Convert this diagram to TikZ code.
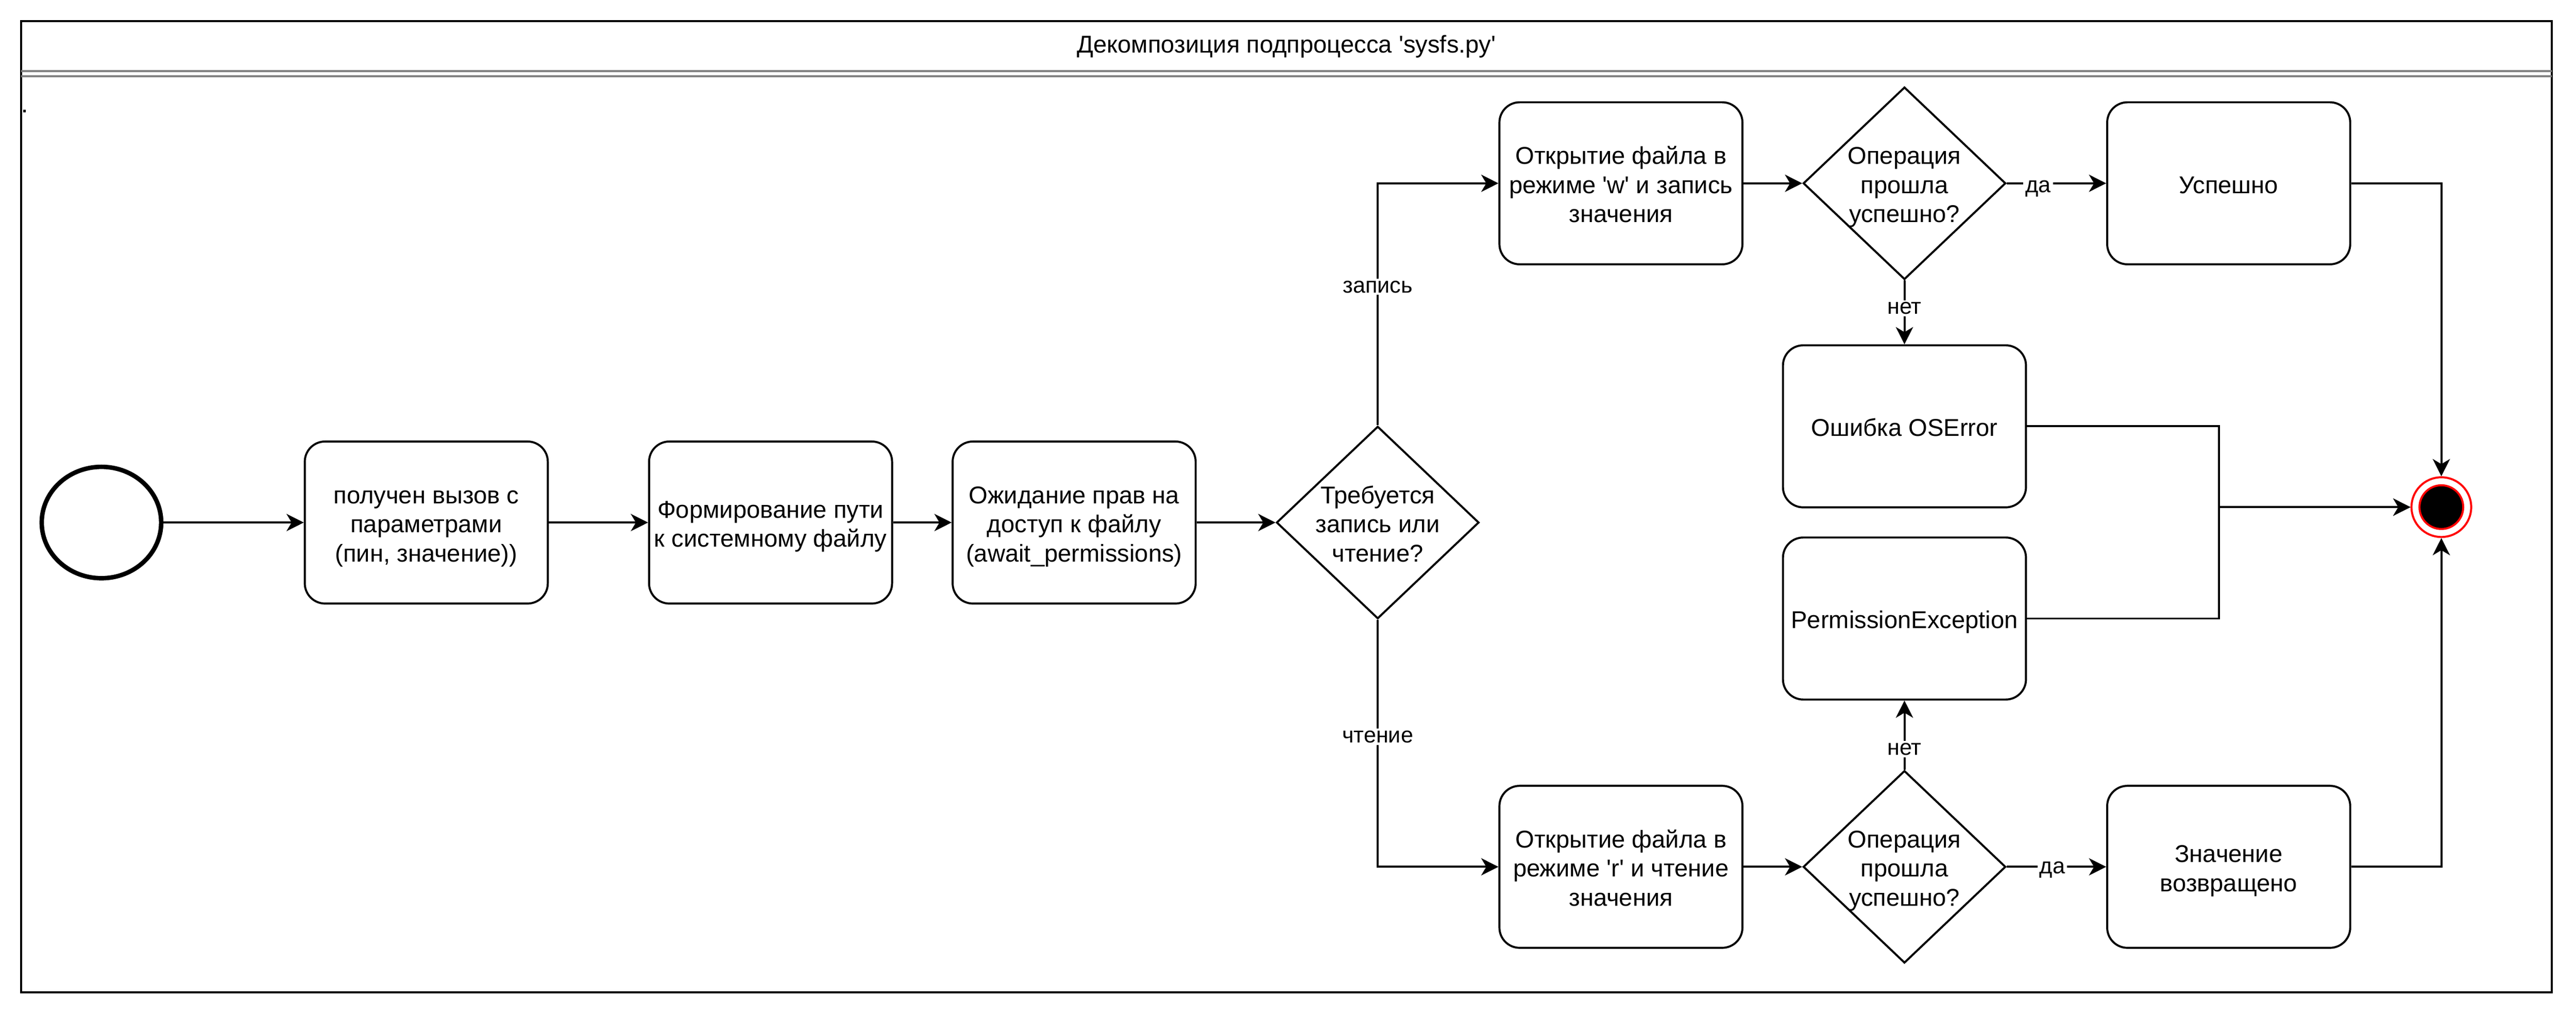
\documentclass[tikz,border=0pt]{standalone}
\usepackage{fontspec}
\setmainfont{Liberation Sans}
\usetikzlibrary{shapes.geometric,arrows.meta}
\newcommand{\dstrutA}{\rule[-3.04pt]{0pt}{16pt}}
\newcommand{\dstrut}{\rule[-3.04pt]{0pt}{14.4pt}}
\begin{document}
\begin{tikzpicture}[x=1pt,y=-1pt,
  every node/.style={font=\fontsize{12}{14.4}\selectfont},
  proc/.style={draw,line width=1pt,rounded corners=10pt,minimum width=120pt,minimum height=80pt,inner sep=0pt,align=center},
  dec/.style={draw,diamond,line width=1pt,minimum width=100pt,minimum height=95pt,inner sep=0pt},
  dtext/.style={inner sep=0pt,align=center},
  lbl/.style={fill=white,inner sep=1pt,font=\fontsize{11}{13.2}\selectfont},
  flow/.style={line width=1pt,-{Stealth[length=8.5pt,width=8.5pt,inset=2.5pt]}},
]
\useasboundingbox (0,0) rectangle (1272,501);

% frame
\draw[line width=1pt] (10.5,10.5) rectangle (1260,490);
\draw[line width=1pt,gray] (10.5,35.2) -- (1260,35.2);
\draw[line width=1pt,gray] (10.5,37.6) -- (1260,37.6);
\node[inner sep=0pt,anchor=base] (title) at (635.2,26) {Декомпозиция подпроцесса \textquotesingle sysfs.py\textquotesingle};
\node[fill,inner sep=0pt,minimum size=1.3pt] (dot) at (12.1,54.9) {};

% nodes
\node[draw,ellipse,line width=2.2pt,minimum width=59pt,minimum height=55pt,inner sep=0pt] (start) at (50.1,258) {};
\node[proc] (b1) at (210.5,258) {\dstrutA получен вызов с\\параметрами\\(пин, значение))\dstrut};
\node[proc] (b2) at (380.5,258) {\dstrutA Формирование пути\\к системному файлу\dstrut};
\node[proc] (b3) at (530.4,258) {\dstrutA Ожидание прав на\\доступ к файлу\\(await\_permissions)\dstrut};
\node[dec] (d1) at (680.3,258) {};
\node[dtext] (d1t) at (d1.center) {\dstrutA Требуется\\запись или\\чтение?\dstrut};

\node[proc] (w1) at (800.4,90.5) {\dstrutA Открытие файла в\\режиме \textquotesingle w\textquotesingle{} и запись\\значения\dstrut};
\node[dec] (d2) at (940.4,90.5) {};
\node[dtext] (d2t) at (d2.center) {\dstrutA Операция\\прошла\\успешно?\dstrut};
\node[proc] (succ) at (1100.5,90.5) {\dstrutA Успешно\dstrut};

\node[proc] (oserr) at (940.4,210.5) {\dstrutA Ошибка OSError\dstrut};
\node[proc] (perm) at (940.4,305.4) {\dstrutA PermissionException\dstrut};

\node[proc] (r1) at (800.4,428) {\dstrutA Открытие файла в\\режиме \textquotesingle r\textquotesingle{} и чтение\\значения\dstrut};
\node[dec] (d3) at (940.4,428) {};
\node[dtext] (d3t) at (d3.center) {\dstrutA Операция\\прошла\\успешно?\dstrut};
\node[proc] (val) at (1100.5,428) {\dstrutA Значение\\возвращено\dstrut};

\node[circle,draw=red,line width=1pt,minimum size=29.5pt,inner sep=0pt] (end) at (1205.5,250.4) {};
\node[circle,draw=red,fill=black,line width=1pt,minimum size=21.6pt,inner sep=0pt] (endin) at (end.center) {};

% connectors
\draw[flow] (start) -- (b1);
\draw[flow] (b1) -- (b2);
\draw[flow] (b2) -- (b3);
\draw[flow] (b3) -- (d1);
\draw[flow] (d1.north) |- (w1.west);
\draw[flow] (d1.south) |- (r1.west);
\draw[flow] (w1) -- (d2);
\draw[flow] (d2) -- (succ);
\draw[flow] (d2.south) -- (oserr.north);
\draw[flow] (succ.east) -| (end.north);
\coordinate (j1) at (1095.7,250.4);
\draw[flow] (oserr.east) -| (j1) -- (end.west);
\draw[flow] (perm.east) -| (j1) -- (end.west);
\draw[flow] (r1) -- (d3);
\draw[flow] (d3) -- (val);
\draw[flow] (d3.north) -- (perm.south);
\draw[flow] (val.east) -| (end.south);

% labels
\node[lbl] (lzap) at (680.3,141.6) {запись};
\node[lbl] (lcht) at (680.3,363.8) {чтение};
\node[lbl] (lda1) at (1006.4,93.2) {да};
\node[lbl] (lnet1) at (940.4,152.2) {нет};
\node[lbl] (lda2) at (1013.4,429.5) {да};
\node[lbl] (lnet2) at (940.4,369.9) {нет};
\end{tikzpicture}
\end{document}
